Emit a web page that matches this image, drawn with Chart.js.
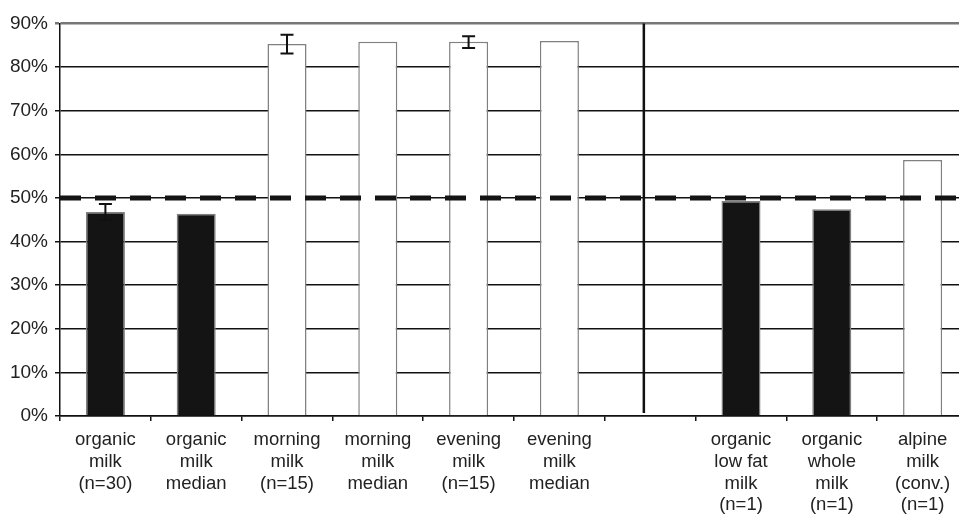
<!DOCTYPE html>
<html>
<head>
<meta charset="utf-8">
<script src="https://cdn.jsdelivr.net/npm/chart.js@4.4.1/dist/chart.umd.min.js"></script>
<style>
    html, body { margin: 0; padding: 0; background: #fff; overflow: hidden; }
    #wrap { width: 968px; height: 515px; }
</style>
</head>
<body>
<div id="wrap"><canvas id="grafico" width="968" height="515"></canvas></div>
<script>
const categorias = [
    ['organic', 'milk', '(n=30)'],
    ['organic', 'milk', 'median'],
    ['morning', 'milk', '(n=15)'],
    ['morning', 'milk', 'median'],
    ['evening', 'milk', '(n=15)'],
    ['evening', 'milk', 'median'],
    '',
    ['organic', 'low fat', 'milk', '(n=1)'],
    ['organic', 'whole', 'milk', '(n=1)'],
    ['alpine', 'milk', '(conv.)', '(n=1)']
];
const valores = [46.8, 46.4, 85.3, 85.8, 85.8, 86.0, null, 49.3, 47.4, 58.7];
const erroMin = [45.0, null, 83.1, null, 84.4, null, null, null, null, null];
const erroMax = [48.6, null, 87.4, null, 87.1, null, null, null, null, null];
const organico = [true, true, false, false, false, false, false, true, true, false];
const linhaReferencia = 50;
const yTicks = [0, 10, 20, 30, 40, 50, 60, 70, 80, 90];

// error bars, 50% dashed line and the separator
const extras = {
    id: 'extras',
    afterDatasetsDraw(chart) {
        const ctx = chart.ctx;
        const x = chart.scales.x;
        const y = chart.scales.y;
        const area = chart.chartArea;
        ctx.save();
        // error bars
        ctx.strokeStyle = '#111';
        ctx.lineWidth = 2;
        valores.forEach((v, i) => {
            if (erroMin[i] == null) return;
            const px = x.getPixelForValue(i);
            const y1 = y.getPixelForValue(erroMin[i]);
            const y2 = y.getPixelForValue(erroMax[i]);
            ctx.beginPath();
            ctx.moveTo(px, y1); ctx.lineTo(px, y2);
            ctx.moveTo(px - 6.5, y1); ctx.lineTo(px + 6.5, y1);
            ctx.moveTo(px - 6.5, y2); ctx.lineTo(px + 6.5, y2);
            ctx.stroke();
        });
        // separator between groups
        const larg = x.getPixelForValue(1) - x.getPixelForValue(0);
        const sx = x.getPixelForValue(6) - 0.07 * larg;
        ctx.strokeStyle = '#111';
        ctx.lineWidth = 2.5;
        ctx.beginPath();
        ctx.moveTo(sx, area.top);
        ctx.lineTo(sx, area.bottom - 3);
        ctx.stroke();
        // 50% reference line
        const ry = y.getPixelForValue(linhaReferencia);
        ctx.strokeStyle = '#141414';
        ctx.lineWidth = 5;
        ctx.setLineDash([21, 14]);
        ctx.beginPath();
        ctx.moveTo(area.left, ry);
        ctx.lineTo(area.right, ry);
        ctx.stroke();
        ctx.restore();
    }
};

const grafico = new Chart(document.getElementById('grafico'), {
    type: 'bar',
    data: {
        labels: categorias,
        datasets: [{
            data: valores,
            backgroundColor: organico.map(o => o ? '#141414' : '#ffffff'),
            borderColor: '#808080',
            borderWidth: 1.5,
            borderSkipped: 'bottom',
            barPercentage: 0.43,
            categoryPercentage: 1
        }]
    },
    options: {
        responsive: false,
        animation: false,
        layout: { padding: { top: 23.5, right: 0, left: 0, bottom: 0 } },
        plugins: {
            legend: { display: false },
            tooltip: { enabled: false }
        },
        scales: {
            x: {
                grid: {
                    display: true,
                    drawOnChartArea: false,
                    drawTicks: true,
                    tickLength: 5,
                    color: '#111',
                    lineWidth: 1.5
                },
                border: { color: '#111', width: 1.5 },
                ticks: {
                    color: '#222',
                    padding: 8.5,
                    maxRotation: 0,
                    autoSkip: false,
                    font: { family: 'Liberation Sans, Arial, sans-serif', size: 18.5, lineHeight: 1.17 }
                },
                afterFit(scale) { scale.height = 99; }
            },
            y: {
                min: 0,
                max: 90,
                afterBuildTicks(scale) { scale.ticks = yTicks.map(v => ({ value: v })); },
                grid: {
                    color: c => c.tick && c.tick.value === 90 ? '#777' : '#111',
                    lineWidth: c => c.tick && c.tick.value === 90 ? 2.5 : 1.5,
                    tickLength: 5
                },
                border: { color: '#111', width: 1.5 },
                ticks: {
                    color: '#222',
                    padding: 7,
                    callback: v => v + '%',
                    font: { family: 'Liberation Sans, Arial, sans-serif', size: 19 }
                },
                afterFit(scale) { scale.width = 60; }
            }
        }
    },
    plugins: [extras]
});
</script>
</body>
</html>
